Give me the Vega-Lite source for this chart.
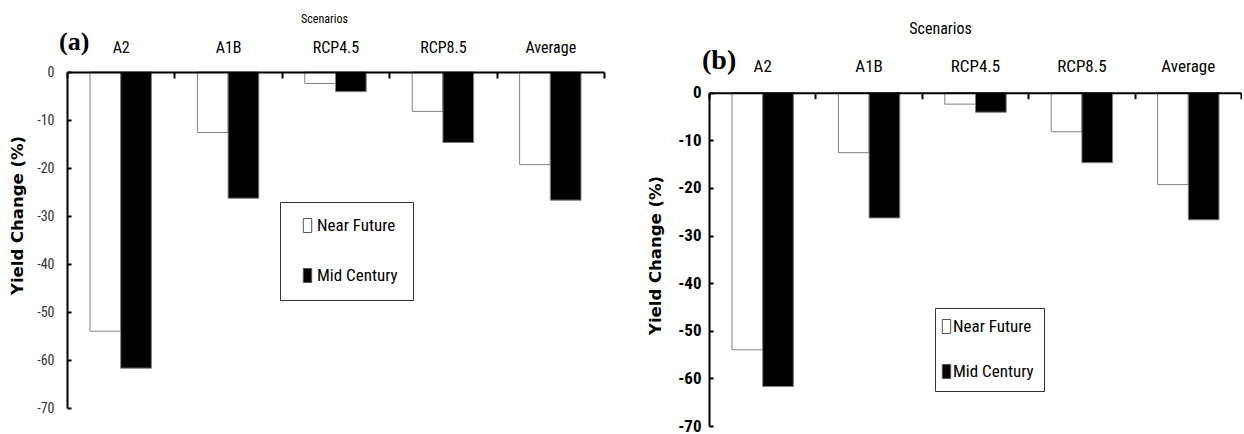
{
  "$schema": "https://vega.github.io/schema/vega-lite/v6.json",
  "background": "white",
  "padding": {"left": 9, "top": 12, "right": 0, "bottom": 0},
  "config": {"view": {"stroke": null}, "font": "Roboto Condensed, DejaVu Sans Condensed, Liberation Sans Narrow, Open Sans"},
  "datasets": {
    "yield": [
      {"scenario": "A2", "period": "Near Future", "change": -54.0},
      {"scenario": "A2", "period": "Mid Century", "change": -61.7},
      {"scenario": "A1B", "period": "Near Future", "change": -12.6},
      {"scenario": "A1B", "period": "Mid Century", "change": -26.3},
      {"scenario": "RCP4.5", "period": "Near Future", "change": -2.4},
      {"scenario": "RCP4.5", "period": "Mid Century", "change": -4.1},
      {"scenario": "RCP8.5", "period": "Near Future", "change": -8.2},
      {"scenario": "RCP8.5", "period": "Mid Century", "change": -14.7},
      {"scenario": "Average", "period": "Near Future", "change": -19.3},
      {"scenario": "Average", "period": "Mid Century", "change": -26.7}
    ]
  },
  "spacing": 42,
  "resolve": {"scale": {"fill": "independent", "y": "independent", "x": "independent"}, "legend": {"fill": "independent"}},
  "hconcat": [
    {
      "width": 537,
      "height": 336,
      "data": {"name": "yield"},
      "title": {"text": "(a)", "font": "Liberation Serif", "fontSize": 26, "fontWeight": "bold", "anchor": "start", "frame": "group", "dx": -8, "dy": 47, "color": "#000"},
      "mark": {"type": "bar", "stroke": "#808080", "strokeWidth": 1},
      "encoding": {
        "x": {
          "field": "scenario", "type": "nominal",
          "sort": ["A2", "A1B", "RCP4.5", "RCP8.5", "Average"],
          "scale": {"paddingInner": 0, "paddingOuter": 0},
          "axis": {
            "orient": "top", "title": "Scenarios", "labelAngle": 0, "tickBand": "extent",
            "domainColor": "#000", "domainWidth": 2, "tickColor": "#000", "tickWidth": 2, "tickSize": -6,
            "labelPadding": 23, "labelFont": "Roboto Condensed, DejaVu Sans Condensed, Liberation Sans Narrow, Open Sans", "labelFontSize": 16, "labelColor": "#000",
            "titleFont": "Roboto Condensed, DejaVu Sans Condensed, Liberation Sans Narrow, Open Sans", "titleFontSize": 12, "titleFontWeight": "normal", "titleColor": "#000",
            "titlePadding": 14, "titleX": 257, "titleAlign": "center", "zindex": 1
          }
        },
        "xOffset": {"field": "period", "type": "nominal", "sort": ["Near Future", "Mid Century"], "scale": {"paddingInner": 0, "paddingOuter": 0.75}},
        "y": {
          "field": "change", "type": "quantitative",
          "scale": {"domain": [-70, 0], "nice": false, "zero": false},
          "axis": {
            "values": [0, -10, -20, -30, -40, -50, -60, -70], "labelExpr": "datum.value + ''", "grid": false,
            "domainColor": "#000", "domainWidth": 2, "tickColor": "#000", "tickWidth": 2, "tickSize": -4,
            "labelPadding": 17, "labelFont": "Roboto Condensed, DejaVu Sans Condensed, Liberation Sans Narrow, Open Sans", "labelFontSize": 14, "labelColor": "#333",
            "title": "Yield Change (%)", "titleFont": "DejaVu Sans", "titleFontSize": 16.5, "titleFontWeight": "bold", "titleColor": "#000",
            "titleX": -50, "titleY": 143, "titleBaseline": "middle", "titleAlign": "center", "zindex": 1
          }
        },
        "fill": {
          "field": "period", "type": "nominal",
          "scale": {"domain": ["Near Future", "Mid Century"], "range": ["#ffffff", "#000000"]},
          "legend": {
            "title": null, "orient": "none", "legendX": 213, "legendY": 130,
            "strokeColor": "#333", "padding": 15, "rowPadding": 31,
            "symbolType": "M-0.6,-1H0.6V1H-0.6Z", "symbolSize": 196, "symbolStrokeColor": "#555", "symbolStrokeWidth": 1, "symbolOffset": 4,
            "labelFont": "Roboto Condensed, DejaVu Sans Condensed, Liberation Sans Narrow, Open Sans", "labelFontSize": 17, "labelColor": "#000", "labelOffset": 1
          }
        }
      }
    },
    {
      "width": 532,
      "height": 354,
      "data": {"name": "yield"},
      "title": {"text": "(b)", "font": "Liberation Serif", "fontSize": 28, "fontWeight": "bold", "anchor": "start", "frame": "group", "dx": -7, "dy": 58, "color": "#000"},
      "mark": {"type": "bar", "stroke": "#808080", "strokeWidth": 1},
      "encoding": {
        "x": {
          "field": "scenario", "type": "nominal",
          "sort": ["A2", "A1B", "RCP4.5", "RCP8.5", "Average"],
          "scale": {"paddingInner": 0, "paddingOuter": 0},
          "axis": {
            "orient": "top", "offset": -20.7, "title": "Scenarios", "labelAngle": 0, "tickBand": "extent",
            "domainColor": "#000", "domainWidth": 2, "tickColor": "#000", "tickWidth": 2, "tickSize": -6,
            "labelPadding": 23, "labelFont": "Roboto Condensed, DejaVu Sans Condensed, Liberation Sans Narrow, Open Sans", "labelFontSize": 17, "labelColor": "#000",
            "titleFont": "Roboto Condensed, DejaVu Sans Condensed, Liberation Sans Narrow, Open Sans", "titleFontSize": 16, "titleFontWeight": "normal", "titleColor": "#000",
            "titlePadding": 21, "titleX": 231, "titleAlign": "center", "zindex": 1
          }
        },
        "xOffset": {"field": "period", "type": "nominal", "sort": ["Near Future", "Mid Century"], "scale": {"paddingInner": 0, "paddingOuter": 0.75}},
        "y": {
          "field": "change", "type": "quantitative",
          "scale": {"domain": [-70, 0], "nice": false, "zero": false, "range": [354, 20.7]},
          "axis": {
            "values": [0, -10, -20, -30, -40, -50, -60, -70], "labelExpr": "datum.value + ''", "grid": false,
            "domainColor": "#000", "domainWidth": 2, "tickColor": "#000", "tickWidth": 2, "tickSize": -4,
            "labelPadding": 12, "labelFont": "Roboto Condensed, DejaVu Sans Condensed, Liberation Sans Narrow, Open Sans", "labelFontSize": 17, "labelFontWeight": "bold", "labelColor": "#000",
            "title": "Yield Change (%)", "titleFont": "DejaVu Sans", "titleFontSize": 16.5, "titleFontWeight": "bold", "titleColor": "#000",
            "titleX": -54, "titleY": 183, "titleBaseline": "middle", "titleAlign": "center", "zindex": 1
          }
        },
        "fill": {
          "field": "period", "type": "nominal",
          "scale": {"domain": ["Near Future", "Mid Century"], "range": ["#ffffff", "#000000"]},
          "legend": {
            "title": null, "orient": "none", "legendX": 226, "legendY": 236,
            "strokeColor": "#333", "padding": 10, "rowPadding": 26,
            "symbolType": "M-0.6,-1H0.6V1H-0.6Z", "symbolSize": 196, "symbolStrokeColor": "#555", "symbolStrokeWidth": 1, "symbolOffset": -7,
            "labelFont": "Roboto Condensed, DejaVu Sans Condensed, Liberation Sans Narrow, Open Sans", "labelFontSize": 17, "labelColor": "#000", "labelOffset": -2
          }
        }
      }
    }
  ]
}
